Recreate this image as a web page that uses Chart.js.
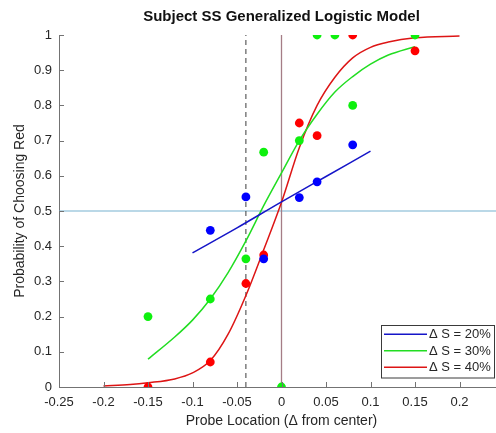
<!DOCTYPE html>
<html>
<head>
<meta charset="utf-8">
<script src="https://cdn.jsdelivr.net/npm/chart.js@4.4.1/dist/chart.umd.min.js"></script>
<style>
  html, body { margin: 0; padding: 0; background: #fff; overflow: hidden; }
  #wrap { position: relative; width: 563px; height: 433px; }
</style>
</head>
<body>
<div id="wrap"><canvas id="chart"></canvas></div>
<script>
// axis ticks
const xTickValues = [-0.25, -0.2, -0.15, -0.1, -0.05, 0, 0.05, 0.1, 0.15, 0.2];
const xTickLabels = ["-0.25", "-0.2", "-0.15", "-0.1", "-0.05", "0", "0.05", "0.1", "0.15", "0.2"];
const yTickValues = [0, 0.1, 0.2, 0.3, 0.4, 0.5, 0.6, 0.7, 0.8, 0.9, 1];
const yTickLabels = ["0", "0.1", "0.2", "0.3", "0.4", "0.5", "0.6", "0.7", "0.8", "0.9", "1"];

// observed proportions
const blueX = [-0.08, -0.04, -0.02, 0.02, 0.04, 0.08];
const blueY = [0.445, 0.54, 0.364, 0.538, 0.583, 0.688];
const greenX = [-0.15, -0.08, -0.04, -0.02, 0, 0.02, 0.04, 0.06, 0.08, 0.15];
const greenY = [0.2, 0.25, 0.364, 0.667, 0, 0.7, 1, 1, 0.8, 1];
const redX = [-0.15, -0.08, -0.04, -0.02, 0.02, 0.04, 0.08, 0.15];
const redY = [0, 0.071, 0.294, 0.375, 0.75, 0.714, 1, 0.955];

// fitted curves
const blueFitX = [-0.1, -0.05, 0, 0.05, 0.1];
const blueFitY = [0.381, 0.452, 0.526, 0.598, 0.67];
const greenFitX = [-0.15, -0.12, -0.1, -0.08, -0.06, -0.04, -0.02, 0, 0.02, 0.04, 0.06, 0.08, 0.1, 0.12, 0.15];
const greenFitY = [0.079, 0.142, 0.19, 0.25, 0.325, 0.415, 0.515, 0.608, 0.7, 0.775, 0.838, 0.882, 0.917, 0.943, 0.967];
const redFitX = [-0.2, -0.17, -0.15, -0.12, -0.1, -0.08, -0.06, -0.04, -0.02, 0, 0.02, 0.04, 0.06, 0.08, 0.1, 0.12, 0.15, 0.2];
const redFitY = [0.003, 0.007, 0.012, 0.023, 0.04, 0.075, 0.15, 0.26, 0.39, 0.525, 0.68, 0.8, 0.88, 0.935, 0.965, 0.98, 0.992, 0.997];

const seriesLabels = ["\u0394 S = 20%", "\u0394 S = 30%", "\u0394 S = 40%"];
const chartTitle = "Subject SS Generalized Logistic Model";

// reference lines
const threshold = 0.5;
const centerX = 0;
const cueX = -0.04;

const axisColor = "#737373";
const textColor = "#262626";
const fontFamily = "'Liberation Sans', Arial, Helvetica, sans-serif";

/**
 * Zip two value lists into {x, y} points.
 *
 * @param {Array<Number>} xs X values.
 * @param {Array<Number>} ys Y values.
 * @returns {Array<Object>} Points.
 */
const toPoints = (xs, ys) => xs.map((x, i) => ({ x: x, y: ys[i] }));

const dotSet = (xs, ys, color) => ({
  data: toPoints(xs, ys),
  backgroundColor: color,
  borderWidth: 0,
  pointRadius: 4.4,
  showLine: false,
});

const fitSet = (label, xs, ys, color) => ({
  type: "line",
  label: label,
  isFit: true,
  data: toPoints(xs, ys),
  borderColor: color,
  borderWidth: 1.5,
  pointRadius: 0,
  fill: false,
  cubicInterpolationMode: "monotone",
});

const refSet = (points, color, dash, width) => ({
  type: "line",
  data: points,
  borderColor: color,
  borderWidth: width,
  borderDash: dash,
  pointRadius: 0,
  fill: false,
});

// title centred over the axes, as in the original figure
const axesTitle = {
  id: "axesTitle",
  afterDraw(chart) {
    const { ctx, chartArea } = chart;
    ctx.save();
    ctx.font = "bold 15px " + fontFamily;
    ctx.fillStyle = "#111";
    ctx.textAlign = "center";
    ctx.textBaseline = "middle";
    ctx.fillText(chartTitle, (chartArea.left + chartArea.right) / 2, 17);
    ctx.restore();
  },
};

// inward tick marks
const innerTicks = {
  id: "innerTicks",
  afterDraw(chart) {
    const { ctx, chartArea, scales } = chart;
    ctx.save();
    ctx.strokeStyle = axisColor;
    ctx.lineWidth = 1;
    ctx.beginPath();
    scales.x.ticks.forEach((t) => {
      const px = Math.round(scales.x.getPixelForValue(t.value)) + 0.5;
      ctx.moveTo(px, chartArea.bottom);
      ctx.lineTo(px, chartArea.bottom - 5);
    });
    scales.y.ticks.forEach((t) => {
      const py = Math.round(scales.y.getPixelForValue(t.value)) + 0.5;
      ctx.moveTo(chartArea.left, py);
      ctx.lineTo(chartArea.left + 5, py);
    });
    ctx.stroke();
    ctx.restore();
  },
};

// boxed legend in the lower right corner of the axes
const boxLegend = {
  id: "boxLegend",
  afterDraw(chart) {
    const { ctx, chartArea } = chart;
    const fits = chart.data.datasets.filter((d) => d.isFit);
    const w = 113;
    const rowH = 16.5;
    const h = fits.length * rowH + 3;
    const left = chartArea.right - 10 - w;
    const top = chartArea.bottom - 10 - h;
    ctx.save();
    ctx.fillStyle = "#fff";
    ctx.fillRect(left, top, w, h);
    ctx.strokeStyle = "#3a3a3a";
    ctx.lineWidth = 1;
    ctx.strokeRect(Math.round(left) + 0.5, Math.round(top) + 0.5, w, h);
    ctx.font = "13px " + fontFamily;
    ctx.textBaseline = "middle";
    ctx.fillStyle = textColor;
    fits.forEach((d, i) => {
      const cy = top + 1.5 + rowH * (i + 0.5);
      ctx.strokeStyle = d.borderColor;
      ctx.lineWidth = 1.5;
      ctx.beginPath();
      ctx.moveTo(left + 3, cy);
      ctx.lineTo(left + 46, cy);
      ctx.stroke();
      ctx.fillText(d.label, left + 48, cy + 0.5);
    });
    ctx.restore();
  },
};

const ctx = document.getElementById("chart").getContext("2d");
new Chart(ctx, {
  type: "scatter",
  data: {
    datasets: [
      dotSet(blueX, blueY, "#0000ff"),
      dotSet(greenX, greenY, "#0ef00e"),
      dotSet(redX, redY, "#ff0000"),
      fitSet(seriesLabels[0], blueFitX, blueFitY, "#1515c8"),
      fitSet(seriesLabels[1], greenFitX, greenFitY, "#22dd22"),
      fitSet(seriesLabels[2], redFitX, redFitY, "#dd1515"),
      refSet([{ x: cueX, y: 0 }, { x: cueX, y: 1 }], "#3c3c3c", [5, 4], 1),
      refSet([{ x: centerX, y: 0 }, { x: centerX, y: 1 }], "#a57d86", [], 1.3),
      refSet([{ x: -0.25, y: threshold }, { x: 0.25, y: threshold }], "#76b2d0", [], 1.2),
    ],
  },
  options: {
    responsive: true,
    maintainAspectRatio: false,
    animation: false,
    events: [],
    layout: { padding: { left: 0, right: 59, top: 35, bottom: 0 } },
    plugins: {
      legend: { display: false },
      tooltip: { enabled: false },
      title: { display: false },
    },
    scales: {
      x: {
        type: "linear",
        min: -0.25,
        max: 0.25,
        afterBuildTicks: (scale) => {
          scale.ticks = xTickValues.map((v) => ({ value: v }));
        },
        afterFit: (scale) => {
          scale.height = 46;
        },
        ticks: {
          callback: (v, i) => xTickLabels[i],
          color: textColor,
          padding: 8,
          maxRotation: 0,
          autoSkip: false,
          font: { family: fontFamily, size: 13 },
        },
        grid: { display: false, drawTicks: false },
        border: { display: true, color: axisColor },
        title: {
          display: true,
          text: "Probe Location (\u0394 from center)",
          color: textColor,
          font: { family: fontFamily, size: 14 },
          padding: { top: 0, bottom: 3 },
        },
      },
      y: {
        type: "linear",
        min: 0,
        max: 1,
        afterBuildTicks: (scale) => {
          scale.ticks = yTickValues.map((v) => ({ value: v }));
        },
        afterFit: (scale) => {
          scale.width = 59;
        },
        ticks: {
          callback: (v, i) => yTickLabels[i],
          color: textColor,
          padding: 7,
          autoSkip: false,
          font: { family: fontFamily, size: 13 },
        },
        grid: { display: false, drawTicks: false },
        border: { display: true, color: axisColor },
        title: {
          display: true,
          text: "Probability of Choosing Red",
          color: textColor,
          font: { family: fontFamily, size: 14 },
          padding: { top: 12, bottom: 0 },
        },
      },
    },
  },
  plugins: [axesTitle, innerTicks, boxLegend],
});
</script>
</body>
</html>
